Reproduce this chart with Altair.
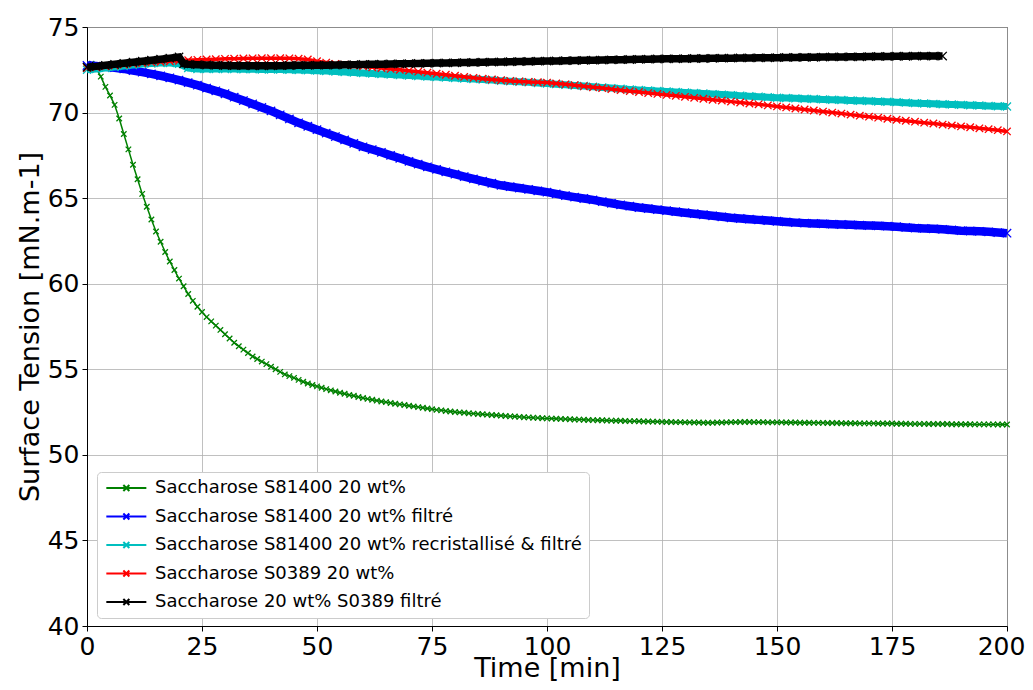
import altair as alt
import pandas as pd

names = [
    "Saccharose S81400 20 wt%",
    "Saccharose S81400 20 wt% filtré",
    "Saccharose S81400 20 wt% recristallisé & filtré",
    "Saccharose S0389 20 wt%",
    "Saccharose 20 wt% S0389 filtré",
]
colors = ["#008000", "#0000ff", "#00bfbf", "#ff0000", "#000000"]

x_ticks = [0, 25, 50, 75, 100, 125, 150, 175, 200]
y_ticks = [40, 45, 50, 55, 60, 65, 70, 75]

t_green = list(range(0, 201))
green = [
    72.7, 72.85, 72.6, 72.1, 71.5, 71.0, 70.45, 69.65, 68.75, 67.85,
    66.95, 66.1, 65.25, 64.5, 63.75, 63.05, 62.45, 61.85, 61.3, 60.8,
    60.3, 59.85, 59.4, 59.0, 58.65, 58.35, 58.05, 57.8, 57.55, 57.3,
    57.05, 56.8, 56.55, 56.35, 56.15, 55.95, 55.75, 55.6, 55.45, 55.3,
    55.15, 55.0, 54.85, 54.7, 54.6, 54.5, 54.38, 54.27, 54.17, 54.08,
    54.0, 53.92, 53.84, 53.77, 53.7, 53.63, 53.57, 53.5, 53.45, 53.38,
    53.32, 53.27, 53.22, 53.17, 53.12, 53.08, 53.03, 52.99, 52.95, 52.91,
    52.87, 52.83, 52.79, 52.75, 52.71, 52.67, 52.63, 52.6, 52.56, 52.53,
    52.5, 52.48, 52.46, 52.43, 52.41, 52.39, 52.37, 52.35, 52.33, 52.31,
    52.29, 52.27, 52.25, 52.24, 52.22, 52.2, 52.19, 52.17, 52.16, 52.14,
    52.13, 52.12, 52.11, 52.1, 52.09, 52.08, 52.07, 52.06, 52.05, 52.04,
    52.03, 52.02, 52.02, 52.01, 52.0, 51.99, 51.99, 51.98, 51.97, 51.97,
    51.96, 51.95, 51.95, 51.94, 51.94, 51.93, 51.92, 51.92, 51.91, 51.91,
    51.9, 51.9, 51.89, 51.89, 51.88, 51.88, 51.88, 51.89, 51.89, 51.9,
    51.91, 51.91, 51.92, 51.92, 51.92, 51.91, 51.91, 51.91, 51.9, 51.9,
    51.9, 51.9, 51.89, 51.89, 51.89, 51.88, 51.88, 51.88, 51.87, 51.87,
    51.87, 51.86, 51.86, 51.86, 51.85, 51.85, 51.85, 51.85, 51.84, 51.84,
    51.84, 51.84, 51.83, 51.83, 51.83, 51.83, 51.82, 51.82, 51.82, 51.81,
    51.81, 51.81, 51.81, 51.8, 51.8, 51.8, 51.8, 51.8, 51.79, 51.79,
    51.79, 51.79, 51.79, 51.78, 51.78, 51.78, 51.78, 51.78, 51.77, 51.77,
    51.77,
]

t_2 = list(range(0, 201, 2))
blue = [
    72.75, 72.72, 72.67, 72.62, 72.55, 72.45, 72.36, 72.26, 72.15, 72.03,
    71.9, 71.75, 71.6, 71.43, 71.27, 71.1, 70.9, 70.7, 70.5, 70.3,
    70.1, 69.87, 69.63, 69.4, 69.2, 69.0, 68.8, 68.6, 68.4, 68.2,
    68.0, 67.84, 67.68, 67.5, 67.33, 67.15, 66.99, 66.83, 66.68, 66.54,
    66.4, 66.26, 66.12, 65.99, 65.87, 65.75, 65.67, 65.59, 65.51, 65.43,
    65.35, 65.25, 65.15, 65.06, 64.98, 64.9, 64.8, 64.7, 64.61, 64.53,
    64.45, 64.39, 64.33, 64.27, 64.21, 64.15, 64.09, 64.03, 63.97, 63.91,
    63.85, 63.81, 63.77, 63.73, 63.69, 63.65, 63.61, 63.57, 63.54, 63.52,
    63.5, 63.48, 63.46, 63.44, 63.42, 63.4, 63.38, 63.36, 63.33, 63.29,
    63.25, 63.23, 63.21, 63.18, 63.14, 63.1, 63.08, 63.06, 63.03, 62.99,
    62.95,
]
cyan = [
    72.5, 72.55, 72.6, 72.66, 72.72, 72.78, 72.83, 72.87, 72.9, 72.9,
    72.85, 72.6, 72.55, 72.55, 72.55, 72.54, 72.54, 72.53, 72.53, 72.52,
    72.52, 72.51, 72.5, 72.49, 72.47, 72.45, 72.43, 72.4, 72.37, 72.34,
    72.31, 72.28, 72.25, 72.22, 72.19, 72.16, 72.13, 72.1, 72.08, 72.05,
    72.02, 71.99, 71.96, 71.93, 71.9, 71.86, 71.83, 71.8, 71.77, 71.73,
    71.7, 71.66, 71.62, 71.58, 71.55, 71.51, 71.47, 71.43, 71.39, 71.35,
    71.32, 71.29, 71.26, 71.23, 71.2, 71.17, 71.14, 71.11, 71.08, 71.05,
    71.02, 70.99, 70.96, 70.93, 70.9, 70.87, 70.85, 70.83, 70.81, 70.79,
    70.77, 70.75, 70.73, 70.71, 70.69, 70.67, 70.65, 70.63, 70.61, 70.58,
    70.55, 70.53, 70.51, 70.49, 70.47, 70.45, 70.43, 70.41, 70.39, 70.37,
    70.35,
]
red = [
    72.6, 72.65, 72.7, 72.75, 72.8, 72.85, 72.89, 72.93, 72.97, 73.0,
    73.03, 73.06, 73.08, 73.1, 73.12, 73.14, 73.15, 73.16, 73.17, 73.18,
    73.18, 73.18, 73.17, 73.15, 73.1, 73.0, 72.92, 72.85, 72.8, 72.75,
    72.7, 72.65, 72.6, 72.55, 72.5, 72.45, 72.39, 72.33, 72.27, 72.21,
    72.15, 72.09, 72.03, 71.98, 71.93, 71.89, 71.85, 71.82, 71.79, 71.77,
    71.75, 71.7, 71.65, 71.6, 71.54, 71.48, 71.43, 71.37, 71.31, 71.25,
    71.2, 71.14, 71.09, 71.03, 70.98, 70.92, 70.86, 70.81, 70.75, 70.7,
    70.64, 70.59, 70.53, 70.48, 70.42, 70.36, 70.3, 70.24, 70.18, 70.12,
    70.06, 70.0, 69.94, 69.88, 69.82, 69.76, 69.7, 69.64, 69.58, 69.52,
    69.47, 69.41, 69.36, 69.3, 69.25, 69.19, 69.14, 69.08, 69.03, 68.97,
    68.9,
]
t_black = list(range(0, 21, 2)) + [21] + list(range(22, 187, 2))
black = [
    72.65, 72.7, 72.76, 72.82, 72.88, 72.94, 73.0, 73.06, 73.12, 73.18,
    73.25, 72.85,
    72.82, 72.8, 72.78, 72.76, 72.75, 72.74, 72.74, 72.73, 72.73, 72.73,
    72.74, 72.75, 72.76, 72.76, 72.77, 72.77, 72.78, 72.79, 72.8, 72.81,
    72.82, 72.83, 72.84, 72.85, 72.86, 72.87, 72.88, 72.89, 72.9, 72.91,
    72.92, 72.93, 72.94, 72.95, 72.96, 72.97, 72.98, 72.99, 73.0, 73.01,
    73.02, 73.03, 73.04, 73.05, 73.06, 73.07, 73.08, 73.09, 73.1, 73.11,
    73.12, 73.13, 73.14, 73.14, 73.15, 73.16, 73.16, 73.17, 73.18, 73.18,
    73.19, 73.19, 73.2, 73.2, 73.21, 73.22, 73.22, 73.23, 73.23, 73.24,
    73.25, 73.25, 73.26, 73.26, 73.27, 73.28, 73.28, 73.29, 73.29, 73.3,
    73.3, 73.3, 73.3,
]

series_t = [t_green, t_2, t_2, t_2, t_black]
series_v = [green, blue, cyan, red, black]
line_w = [1.5, 8.5, 7, 3.5, 7.5]
mark_sz = [30, 70, 64, 55, 70]

rows = []
for name, ts, vs in zip(names, series_t, series_v):
    for t, v in zip(ts, vs):
        rows.append({"series": name, "time": t, "tension": v})
df = pd.DataFrame(rows)

FONT = "DejaVu Sans"
XSHAPE = "M-1,-1L1,1M-1,1L1,-1"
LEG_SYMBOL = "M-1,0H5M1.55,-0.45L2.45,0.45M1.55,0.45L2.45,-0.45"

x_enc = alt.X("time:Q", scale=alt.Scale(domain=[0, 200], nice=False),
              axis=alt.Axis(values=x_ticks, title="Time [min]",
                            titleBaseline="alphabetic", titleY=50,
                            labelOffset={"condition": {"test": "datum.value == 200", "value": -6},
                                         "value": 0}))
y_enc = alt.Y("tension:Q", scale=alt.Scale(domain=[40, 75], nice=False, zero=False),
              axis=alt.Axis(values=y_ticks, title="Surface Tension [mN.m-1]", titlePadding=3))
color_enc = alt.Color(
    "series:N",
    scale=alt.Scale(domain=names, range=colors),
    legend=alt.Legend(
        title=None, orient="none", legendX=10, legendY=445,
        symbolType=LEG_SYMBOL, symbolSize=178, symbolStrokeWidth=2,
        labelFontSize=18, labelFont=FONT, labelColor="black", labelLimit=1000,
        fillColor="white", strokeColor="#cccccc", cornerRadius=4,
        padding=7, rowPadding=10.5, labelOffset=33,
    ),
)

layers = []
for i, name in enumerate(names):
    base = alt.Chart(df).transform_filter(alt.datum.series == name)
    layers.append(base.mark_line(strokeWidth=line_w[i]).encode(x=x_enc, y=y_enc, color=color_enc))
    layers.append(
        base.mark_point(shape=XSHAPE, filled=False, size=mark_sz[i], strokeWidth=1.3,
                        opacity=1, color=colors[i])
        .encode(x=x_enc, y=y_enc)
    )

chart = (
    alt.layer(*layers)
    .properties(width=920, height=599, autosize=alt.AutoSizeParams(type="none"),
                padding={"left": 79, "top": 19, "right": 18, "bottom": 55})
    .configure_view(stroke="black", strokeWidth=1)
    .configure_axis(
        grid=True, gridColor="#b0b0b0", gridWidth=0.8, labelFlush=False,
        domainColor="black", tickColor="black", tickSize=5, labelPadding=3,
        labelFont=FONT, labelFontSize=25, labelColor="black",
        titleFont=FONT, titleFontSize=27, titleFontWeight="normal", titleColor="black",
    )
)

chart.save("out.html", embed_options={"renderer": "svg", "actions": False})
